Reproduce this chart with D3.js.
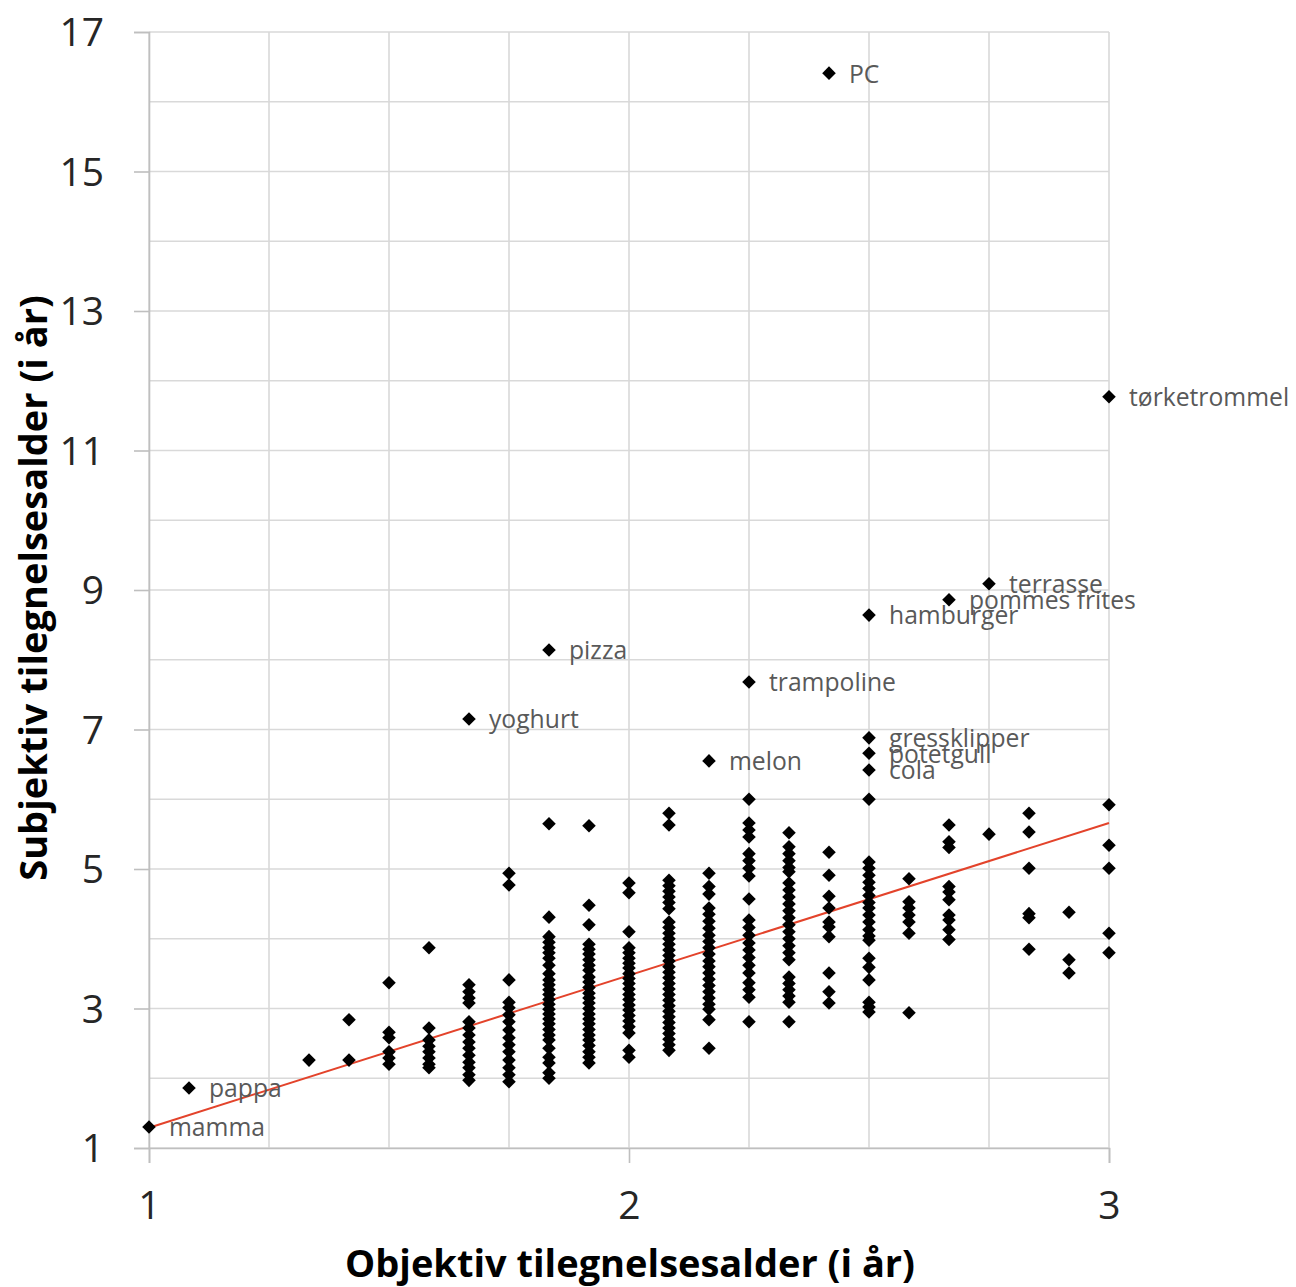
<!DOCTYPE html>
<html><head><meta charset="utf-8">
<script src="https://cdn.jsdelivr.net/npm/d3@7"></script>
<style>
html,body{margin:0;padding:0;background:#fff;}
svg{display:block;font-family:"Open Sans",sans-serif;}
</style></head>
<body><svg id="chart" width="1296" height="1287"></svg>
<script>
// Objective acquisition age in months for each column of points
const columnMonths = [16, 17, 18, 19, 20, 21, 22, 23, 24, 25, 26, 27, 28, 29, 30, 31, 32, 33, 34, 35, 36];
// Subjective acquisition age (years) for unlabeled words in each column
const columnValues = [
  [2.26],
  [2.84, 2.26],
  [3.37, 2.66, 2.58, 2.38, 2.29, 2.20],
  [3.87, 2.72, 2.55, 2.46, 2.38, 2.29, 2.20, 2.15],
  [3.34, 3.24, 3.15, 3.08, 2.81, 2.72, 2.62, 2.52, 2.43, 2.33, 2.23, 2.15, 2.05, 1.97],
  [4.94, 4.77, 3.41, 3.09, 3.01, 2.91, 2.81, 2.69, 2.58, 2.48, 2.38, 2.26, 2.15, 2.05, 1.95],
  [5.65, 4.31, 4.03, 3.95, 3.87, 3.80, 3.72, 3.62, 3.50, 3.41, 3.34, 3.27, 3.20, 3.13, 3.06, 2.99, 2.92, 2.85, 2.78, 2.70, 2.62, 2.55, 2.43, 2.30, 2.22, 2.08, 2.00],
  [5.62, 4.48, 4.20, 3.92, 3.85, 3.78, 3.70, 3.62, 3.55, 3.45, 3.38, 3.30, 3.22, 3.15, 3.08, 3.00, 2.92, 2.85, 2.78, 2.70, 2.62, 2.55, 2.47, 2.38, 2.30, 2.22],
  [4.80, 4.66, 4.10, 3.87, 3.80, 3.72, 3.65, 3.58, 3.50, 3.43, 3.36, 3.28, 3.20, 3.13, 3.05, 2.98, 2.90, 2.82, 2.74, 2.65, 2.40, 2.30],
  [5.80, 5.63, 4.84, 4.76, 4.68, 4.60, 4.52, 4.43, 4.24, 4.16, 4.08, 4.00, 3.92, 3.84, 3.76, 3.68, 3.60, 3.52, 3.44, 3.36, 3.28, 3.20, 3.12, 3.04, 2.96, 2.88, 2.80, 2.72, 2.64, 2.56, 2.48, 2.40],
  [4.94, 4.75, 4.64, 4.44, 4.35, 4.25, 4.15, 4.05, 3.96, 3.87, 3.78, 3.68, 3.60, 3.51, 3.42, 3.33, 3.24, 3.15, 3.06, 2.99, 2.84, 2.43],
  [6.00, 5.66, 5.56, 5.46, 5.22, 5.12, 5.01, 4.90, 4.57, 4.27, 4.16, 4.05, 3.94, 3.84, 3.73, 3.62, 3.51, 3.37, 3.27, 3.16, 2.81],
  [5.52, 5.32, 5.22, 5.12, 5.02, 4.96, 4.80, 4.70, 4.60, 4.50, 4.40, 4.30, 4.20, 4.10, 4.00, 3.90, 3.80, 3.70, 3.45, 3.36, 3.27, 3.18, 3.09, 2.81],
  [5.24, 4.91, 4.61, 4.44, 4.24, 4.17, 4.03, 3.51, 3.24, 3.08],
  [6.00, 5.10, 5.01, 4.91, 4.81, 4.72, 4.62, 4.52, 4.44, 4.34, 4.24, 4.13, 4.04, 3.98, 3.72, 3.59, 3.41, 3.09, 3.02, 2.95],
  [4.86, 4.53, 4.44, 4.34, 4.24, 4.08, 2.94],
  [5.63, 5.39, 5.31, 4.75, 4.67, 4.56, 4.34, 4.27, 4.13, 3.99],
  [5.50],
  [5.80, 5.53, 5.01, 4.36, 4.30, 3.85],
  [4.38, 3.70, 3.51],
  [5.92, 5.34, 5.01, 4.08, 3.80]
];
// Labeled words
const labelNames  = ["mamma", "pappa", "yoghurt", "pizza", "melon", "trampoline", "PC", "hamburger", "gressklipper", "potetgull", "cola", "pommes frites", "terrasse", "tørketrommel"];
const labelMonths = [12, 13, 20, 22, 26, 27, 29, 30, 30, 30, 30, 32, 33, 36];
const labelValues = [1.30, 1.86, 7.15, 8.14, 6.55, 7.68, 16.41, 8.64, 6.88, 6.66, 6.42, 8.86, 9.09, 11.77];
// Linear trend line
const trendX = [1, 3];
const trendY = [1.29, 5.66];
// Axes
const xTicks = [1, 2, 3];
const yTicks = [1, 3, 5, 7, 9, 11, 13, 15, 17];
const xGrid = [1, 1.25, 1.5, 1.75, 2, 2.25, 2.5, 2.75, 3];
const yGrid = d3.range(1, 18, 1);
const xTitle = "Objektiv tilegnelsesalder (i år)";
const yTitle = "Subjektiv tilegnelsesalder (i år)";

const svg = d3.select("#chart");
const L = 149, R = 1109, T = 32, B = 1148;
const x = d3.scaleLinear().domain([1, 3]).range([L, R]);
const y = d3.scaleLinear().domain([1, 17]).range([B, T]);

const grid = svg.append("g");
grid.selectAll("line.h").data(yGrid).join("line")
  .attr("x1", L).attr("x2", R).attr("y1", d => y(d)).attr("y2", d => y(d))
  .attr("stroke", "#d9d9d9").attr("stroke-width", 1.6);
grid.selectAll("line.v").data(xGrid).join("line")
  .attr("x1", d => x(d)).attr("x2", d => x(d)).attr("y1", T).attr("y2", B)
  .attr("stroke", "#d9d9d9").attr("stroke-width", 1.6);

// Axes
const xAxis = d3.axisBottom(x).tickValues(xTicks).tickSize(15).tickPadding(28).tickFormat(d3.format("d"));
const yAxis = d3.axisLeft(y).tickValues(yTicks).tickSize(15).tickPadding(30).tickFormat(d3.format("d"));
const gx = svg.append("g").attr("transform", `translate(0,${B})`).call(xAxis);
const gy = svg.append("g").attr("transform", `translate(${L},0)`).call(yAxis);
[gx, gy].forEach(g => {
  g.select(".domain").attr("stroke", "#bfbfbf").attr("stroke-width", 1.6);
  g.selectAll(".tick line").attr("stroke", "#bfbfbf").attr("stroke-width", 1.6);
  g.selectAll(".tick text").attr("fill", "#262626").attr("font-size", 39).attr("font-family", "Open Sans");
});
gy.selectAll(".tick text").attr("dy", "0.35em");

// Trend line
svg.append("line")
  .attr("x1", x(trendX[0])).attr("y1", y(trendY[0]))
  .attr("x2", x(trendX[1])).attr("y2", y(trendY[1]))
  .attr("stroke", "#e3432b").attr("stroke-width", 2);

// Points
const pts = [];
columnMonths.forEach((m, i) => columnValues[i].forEach(v => pts.push({ax: m / 12, v})));
labelMonths.forEach((m, i) => pts.push({ax: m / 12, v: labelValues[i]}));
const sym = d3.symbol().type(d3.symbolSquare).size(92);
svg.append("g").selectAll("path").data(pts).join("path")
  .attr("d", sym)
  .attr("transform", d => `translate(${x(d.ax)},${y(d.v)}) rotate(45)`)
  .attr("fill", "#000");

// Labels
svg.append("g").selectAll("text").data(labelNames).join("text")
  .attr("x", (d, i) => x(labelMonths[i] / 12) + 20)
  .attr("y", (d, i) => y(labelValues[i]))
  .attr("dy", "0.38em")
  .attr("font-size", 24.7)
  .attr("fill", "#595959")
  .text(d => d);

// Axis titles
svg.append("text").attr("x", 630).attr("y", 1277).attr("text-anchor", "middle")
  .attr("font-size", 38).attr("font-weight", "bold").attr("fill", "#000").text(xTitle);
svg.append("text").attr("transform", "translate(47,588) rotate(-90)").attr("text-anchor", "middle")
  .attr("font-size", 38).attr("font-weight", "bold").attr("fill", "#000").text(yTitle);
</script></body></html>
